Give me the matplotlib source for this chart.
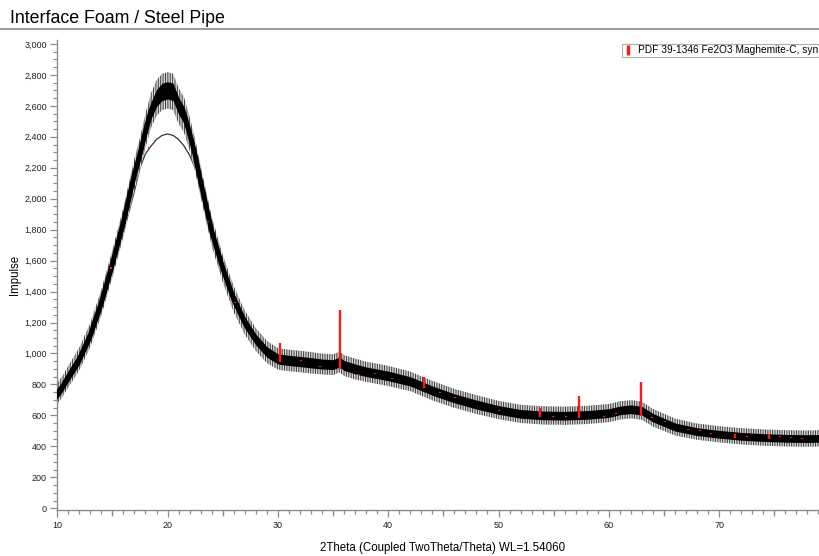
import numpy as np
import matplotlib
matplotlib.use('Agg')
import matplotlib.pyplot as plt
from matplotlib.lines import Line2D
from matplotlib.ticker import MultipleLocator, FuncFormatter

##### DATA #####
# measured pattern, read off the picture (centre of the noisy trace and its noise half-width)
two_theta = [9.94, 10.5, 11, 12, 13, 14, 15, 16, 17, 17.5, 18, 18.5, 19, 19.5, 20, 20.5, 21, 21.5,
             22, 22.5, 23, 24, 25, 26, 27, 28, 29, 30, 31, 32, 33, 34, 35, 35.6, 36, 37, 38, 40,
             42, 44, 46, 48, 50, 52, 54, 56, 58, 60, 61, 62, 63, 64, 66, 68, 70, 72, 74, 76, 78, 79.14]
counts = [735, 790, 850, 965, 1120, 1330, 1580, 1850, 2160, 2290, 2440, 2570, 2650, 2690, 2700, 2690,
          2600, 2540, 2420, 2280, 2110, 1790, 1550, 1350, 1200, 1090, 1010, 965, 955, 948, 940, 932,
          928, 945, 922, 900, 882, 855, 820, 760, 710, 670, 635, 610, 600, 598, 603, 615, 632, 640,
          630, 585, 525, 495, 478, 465, 457, 452, 450, 452]
noise = [32, 32, 33, 35, 37, 40, 42, 45, 48, 50, 52, 54, 55, 56, 56, 56, 55, 54, 52, 50, 48, 45, 42,
         40, 37, 35, 34, 33, 33, 33, 33, 32, 32, 32, 32, 32, 31, 31, 30, 30, 29, 29, 28, 28, 28, 28,
         28, 28, 28, 28, 28, 27, 26, 25, 25, 25, 25, 25, 25, 25]

# fitted background hump (thin line)
bg_theta = [9.94, 12, 14, 15, 16, 17, 17.5, 18, 18.5, 19, 19.5, 20, 20.5, 21, 21.5, 22, 22.5, 23,
            23.7, 25, 26.1, 28, 30, 35, 40, 45, 50, 55, 60, 63, 65, 70, 75, 79.14]
bg_counts = [720, 960, 1290, 1530, 1780, 2050, 2200, 2290, 2340, 2383, 2409, 2418, 2409, 2383, 2340,
             2280, 2200, 2100, 1849, 1530, 1327, 1080, 950, 895, 830, 720, 625, 585, 595, 595, 545,
             470, 440, 440]

# PDF 39-1346 Fe2O3 Maghemite-C reference sticks (bottom / top)
stick_pos = [14.9, 18.3, 23.7, 26.1, 30.2, 32.1, 33.85, 35.6, 37.23, 38.83, 40.34, 43.27, 44.66,
             46.05, 50.0, 53.78, 54.9, 56.1, 57.28, 59.6, 60.66, 62.93, 63.95, 65.1, 67.2, 68.27,
             69.3, 71.47, 72.5, 74.5, 75.55, 76.5, 77.5]
stick_lo = [1548, 2326, 1849, 1327, 946, 952, 910, 897, 862, 866, 834, 774, 742, 710, 630, 587, 587,
            587, 585, 591, 608, 595, 581, 555, 505, 497, 477, 452, 462, 445, 462, 452, 449]
stick_hi = [1556, 2334, 1857, 1335, 1065, 960, 918, 1284, 870, 874, 842, 845, 750, 718, 638, 645, 595,
            595, 726, 599, 616, 817, 589, 563, 513, 505, 485, 477, 470, 481, 470, 460, 457]

x_major = [10, 20, 30, 40, 50, 60, 70]
x_mid = [15, 25, 35, 45, 55, 65, 75]

##### PLOT #####
plt.rcParams['font.family'] = ['Liberation Sans', 'DejaVu Sans']
plt.rcParams['hatch.linewidth'] = 0.7
fig = plt.figure(figsize=(8.2, 5.56), dpi=100)
ax = fig.add_axes([0.069, 0.0836, 0.931, 0.8444])

x = np.array(two_theta)
y = np.array(counts)
n = np.array(noise)

ax.plot(bg_theta, bg_counts, color='#333333', lw=0.9, zorder=1)
# spiky outer part of the trace (vertical hatching), then the dense core
ax.fill_between(x, y - 2.1 * n, y + 2.1 * n, facecolor='#dadada', edgecolor='#3a3a3a',
                hatch='|||||||', lw=0, zorder=2)
ax.fill_between(x, y - n, y + n, color='black', lw=0, zorder=3)
ax.plot(x, y, color='black', lw=3.5, zorder=3)

ax.vlines(stick_pos, stick_lo, stick_hi, color='#ff1a1a', lw=1.7, zorder=5)

##### AXES #####
ax.set_xlim(9.94, 79.14)
ax.set_ylim(-8, 3025)
for s in ['top', 'right']:
    ax.spines[s].set_visible(False)
for s in ['left', 'bottom']:
    ax.spines[s].set_color('#8c8c8c')
    ax.spines[s].set_linewidth(1.0)

ax.set_xticks(x_major)
ax.xaxis.set_minor_locator(MultipleLocator(1))
ax.yaxis.set_major_locator(MultipleLocator(200))
ax.yaxis.set_minor_locator(MultipleLocator(50))
ax.yaxis.set_major_formatter(FuncFormatter(lambda v, p: f'{int(v):,}'))
ax.tick_params(which='major', length=5, width=0.9, color='#8c8c8c', labelsize=6.5,
               labelcolor='#222222', pad=2)
ax.tick_params(which='minor', length=3, width=0.9, color='#8c8c8c')
ax.tick_params(axis='x', which='major', pad=3)

sec = ax.secondary_xaxis('bottom')
sec.set_xticks(x_mid)
sec.tick_params(length=4.2, width=0.9, color='#8c8c8c', labelbottom=False)
sec.spines['bottom'].set_visible(False)

ax.set_ylabel('Impulse', fontsize=8.3)
ax.yaxis.set_label_coords(-0.047, 0.5)
ax.set_xlabel('2Theta (Coupled TwoTheta/Theta) WL=1.54060', fontsize=8.3)
ax.xaxis.set_label_coords(0.505, -0.07)

##### LEGEND #####
handle = Line2D([], [], color='#ff1a1a', marker='|', linestyle='None', markersize=7, markeredgewidth=2.4)
leg = ax.legend([handle], ['PDF 39-1346 Fe2O3 Maghemite-C, syn'], loc='upper left',
                bbox_to_anchor=(0.7406, 0.992), fontsize=7.3, frameon=True, fancybox=False,
                handlelength=0.8, handletextpad=0.6, borderpad=0.15, borderaxespad=0)
leg.get_frame().set_edgecolor('#9a9a9a')
leg.get_frame().set_linewidth(0.8)

##### TITLE #####
fig.text(0.012, 0.9586, 'Interface Foam / Steel Pipe', fontsize=12.8, va='baseline', ha='left')
fig.add_artist(Line2D([0, 1], [0.9487, 0.9487], transform=fig.transFigure, color='#8a8a8a', lw=1.2))

fig.savefig('out.png', dpi=100)
